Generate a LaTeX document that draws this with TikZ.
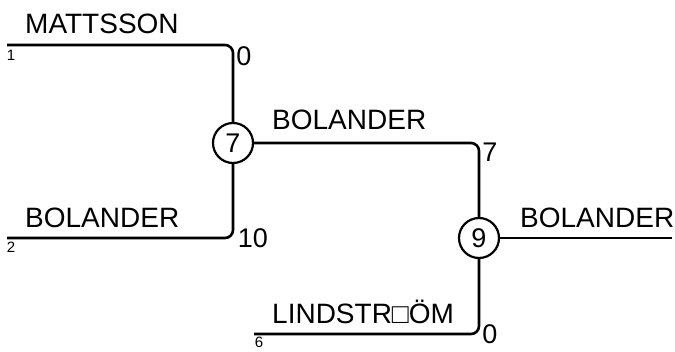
\documentclass[tikz,border=0pt]{standalone}
\usepackage{fontspec}
\setmainfont{Liberation Sans}
\begin{document}
\begin{tikzpicture}[x=1pt,y=-1pt,
  edge/.style={line width=2.6pt,rounded corners=8pt},
  merge/.style={circle,draw,line width=2.2pt,minimum size=40pt,inner sep=0pt,font=\fontsize{27}{27}\selectfont},
  lbl/.style={anchor=base west,inner sep=0pt,font=\fontsize{28}{28}\selectfont},
  score/.style={inner sep=0pt,font=\fontsize{27}{27}\selectfont},
  idx/.style={inner sep=0pt,font=\fontsize{15}{15}\selectfont}]
\useasboundingbox (0,0) rectangle (675,351);
\node[merge] (n7) at (233,143) {7};
\node[merge] (n9) at (479,238) {9};
\coordinate (l1) at (7,45);
\coordinate (l2) at (7,238);
\coordinate (l6) at (254,334);
\coordinate (r) at (672,238);
\draw[edge] (l1) -| (n7.north);
\draw[edge] (l2) -| (n7.south);
\draw[edge] (n7.east) -| (n9.north);
\draw[edge] (l6) -| (n9.south);
\draw[edge] (n9.east) -- (r);
\node[lbl] (t1) at (25,33) {MATTSSON};
\node[lbl] (t2) at (25,227) {BOLANDER};
\node[lbl] (t3) at (272,129) {BOLANDER};
\node[lbl] (t4) at (272,323) {LINDSTR□ÖM};
\node[lbl] (t5) at (520,227) {BOLANDER};
\node[idx] (i1) at (11,55) {1};
\node[idx] (i2) at (11,247) {2};
\node[idx] (i6) at (259,342.5) {6};
\node[score] (s1) at (244,56) {0};
\node[score] (s2) at (253,238) {10};
\node[score] (s3) at (490,152) {7};
\node[score] (s4) at (490,334) {0};
\end{tikzpicture}
\end{document}
